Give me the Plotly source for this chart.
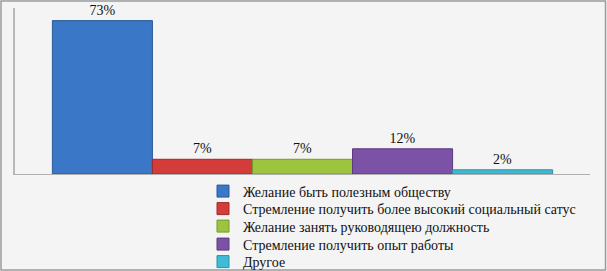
import plotly.graph_objects as go

categories = ["Мотивы"]
series_names = [
    "Желание быть полезным обществу",
    "Стремление получить более высокий социальный сатус",
    "Желание занять руководящею должность",
    "Стремление получить опыт работы",
    "Другое",
]
series_values = [73, 7, 7, 12, 2]
series_colors = ["#3a77c6", "#d23c3a", "#9cc43e", "#7b52a6", "#3fbbd6"]
line_colors = ["#2a5a9a", "#a02a28", "#78982a", "#5a3a80", "#2a90a8"]

SERIF = "Liberation Serif, Times New Roman, serif"

W, H = 607, 271
ML, MR, MT, MB = 15, 17, 8, 97
PW, PH = W - ML - MR, H - MT - MB

def px_x(p):
    return (p - ML) / PW

def px_y(p):
    return (H - MB - p) / PH

legend_rows = [191.5, 209, 226.5, 244.5, 262]

fig = go.Figure()
layout_legends = {}
for i, (name, val, col, lc) in enumerate(zip(series_names, series_values, series_colors, line_colors)):
    key = "legend" if i == 0 else f"legend{i+1}"
    fig.add_trace(go.Bar(
        x=categories, y=[val], name=name, legend=key,
        marker=dict(color=col, line=dict(color=lc, width=1)),
        text=[f"{val}%"], textposition="outside",
        textfont=dict(family=SERIF, size=14, color="#111111"),
        cliponaxis=False,
    ))
    layout_legends[key] = dict(
        x=px_x(203), y=px_y(legend_rows[i]), xanchor="left", yanchor="middle",
        font=dict(family=SERIF, size=14, color="#111111"),
        bgcolor="rgba(0,0,0,0)", borderwidth=0, itemwidth=30,
    )

fig.update_layout(
    width=W, height=H,
    margin=dict(l=ML, r=MR, t=MT, b=MB, autoexpand=False),
    paper_bgcolor="#f4f4f4", plot_bgcolor="#f4f4f4",
    barmode="group", bargap=0.13, bargroupgap=0,
    showlegend=True,
    xaxis=dict(range=[-0.5, 0.5], showticklabels=False, ticks="", showgrid=False, zeroline=False,
               showline=True, linecolor="#b0b0b0", linewidth=1),
    yaxis=dict(range=[0, 79], showticklabels=False, ticks="", showgrid=False,
               zeroline=False, showline=True, linecolor="#b8b8b8", linewidth=2),
    shapes=[dict(type="rect", xref="paper", yref="paper",
                 x0=px_x(1), x1=px_x(605.5), y0=px_y(270), y1=px_y(1),
                 line=dict(color="#9a9a9a", width=1.5))],
    **layout_legends,
)

fig.write_html("out.html", config={"displayModeBar": False},
               post_script="document.body.style.margin='0px';")
